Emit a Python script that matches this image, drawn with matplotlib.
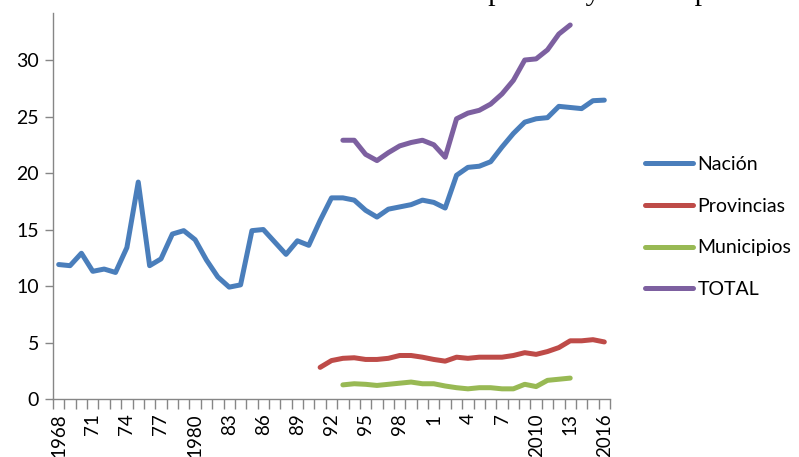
import numpy as np
import matplotlib
matplotlib.use('Agg')
import matplotlib.pyplot as plt

plt.rcParams['font.family'] = ['Lato', 'DejaVu Sans']

years = list(range(1968, 2017))

nacion = [11.9, 11.8, 12.9, 11.3, 11.5, 11.2, 13.4, 19.2, 11.8, 12.4,
          14.6, 14.9, 14.1, 12.3, 10.8, 9.9, 10.1, 14.9, 15.0, 13.9,
          12.8, 14.0, 13.6, 15.8, 17.8, 17.8, 17.6, 16.7, 16.1, 16.8,
          17.0, 17.2, 17.6, 17.4, 16.9, 19.8, 20.5, 20.6, 21.0, 22.3,
          23.5, 24.5, 24.8, 24.9, 25.9, 25.8, 25.7, 26.4, 26.45]

prov_years = list(range(1991, 2017))
provincias = [2.8, 3.4, 3.6, 3.65, 3.5, 3.5, 3.6, 3.85, 3.85, 3.7,
              3.5, 3.35, 3.7, 3.6, 3.7, 3.7, 3.7, 3.85, 4.1, 3.95,
              4.2, 4.55, 5.15, 5.15, 5.25, 5.05]

muni_years = list(range(1993, 2014))
municipios = [1.25, 1.35, 1.3, 1.2, 1.3, 1.4, 1.5, 1.35, 1.35, 1.15,
              1.0, 0.9, 1.0, 1.0, 0.9, 0.9, 1.3, 1.1, 1.65, 1.75, 1.85]

total_years = list(range(1993, 2014))
total = [22.9, 22.9, 21.65, 21.1, 21.8, 22.4, 22.7, 22.9, 22.5, 21.4,
         24.8, 25.3, 25.55, 26.1, 27.0, 28.2, 30.0, 30.1, 30.9, 32.3, 33.1]

tick_years = list(range(1968, 2017, 3))
tick_labels = ['1968', '71', '74', '77', '1980', '83', '86', '89', '92',
               '95', '98', '1', '4', '7', '2010', '13', '2016']

fig = plt.figure(figsize=(7.99, 4.57), dpi=100)
ax = fig.add_axes([53 / 799, 1 - 399 / 457, (610 - 53) / 799, (399 - 13) / 457])

lw = 3.6
ax.plot(years, nacion, color='#4A7EBB', lw=lw, label='Nación', solid_capstyle='round')
ax.plot(prov_years, provincias, color='#BE4B48', lw=lw, label='Provincias', solid_capstyle='round')
ax.plot(muni_years, municipios, color='#98B954', lw=lw, label='Municipios', solid_capstyle='round')
ax.plot(total_years, total, color='#7D60A0', lw=lw, label='TOTAL', solid_capstyle='round')

ax.set_xlim(1967.5, 2016.5)
ax.set_ylim(0, 385 / 11.27)
ax.set_yticks(range(0, 31, 5))

# tick marks sit between categories, labels at the category centres
ax.set_xticks(np.arange(1967.5, 2017, 1))
ax.set_xticklabels([])
ax.set_xticks(tick_years, minor=True)
ax.set_xticklabels(tick_labels, minor=True, rotation=90, fontsize=13.5)
ax.tick_params(axis='x', which='major', length=7, color='#868686', width=1)
ax.tick_params(axis='x', which='minor', length=0, pad=10.5)
ax.tick_params(axis='y', length=6, color='#868686', width=1, labelsize=14, pad=4)

for s in ['top', 'right']:
    ax.spines[s].set_visible(False)
for s in ['left', 'bottom']:
    ax.spines[s].set_color('#868686')
    ax.spines[s].set_linewidth(1)

leg = fig.legend(loc='upper left', bbox_to_anchor=(645 / 799, 1 - 156 / 457),
                 frameon=False, fontsize=14, handlelength=2.45, handletextpad=0.25,
                 labelspacing=1.27, borderpad=0, borderaxespad=0)
for h in leg.get_lines():
    h.set_linewidth(3.6)

# title of the original page, cut off at the top edge
fig.text(745 / 799, 1.0, 'Gasto del sector público y Municipios', ha='right', va='baseline',
         fontsize=21.6, family='Liberation Serif')

fig.savefig('out.png', dpi=100)
